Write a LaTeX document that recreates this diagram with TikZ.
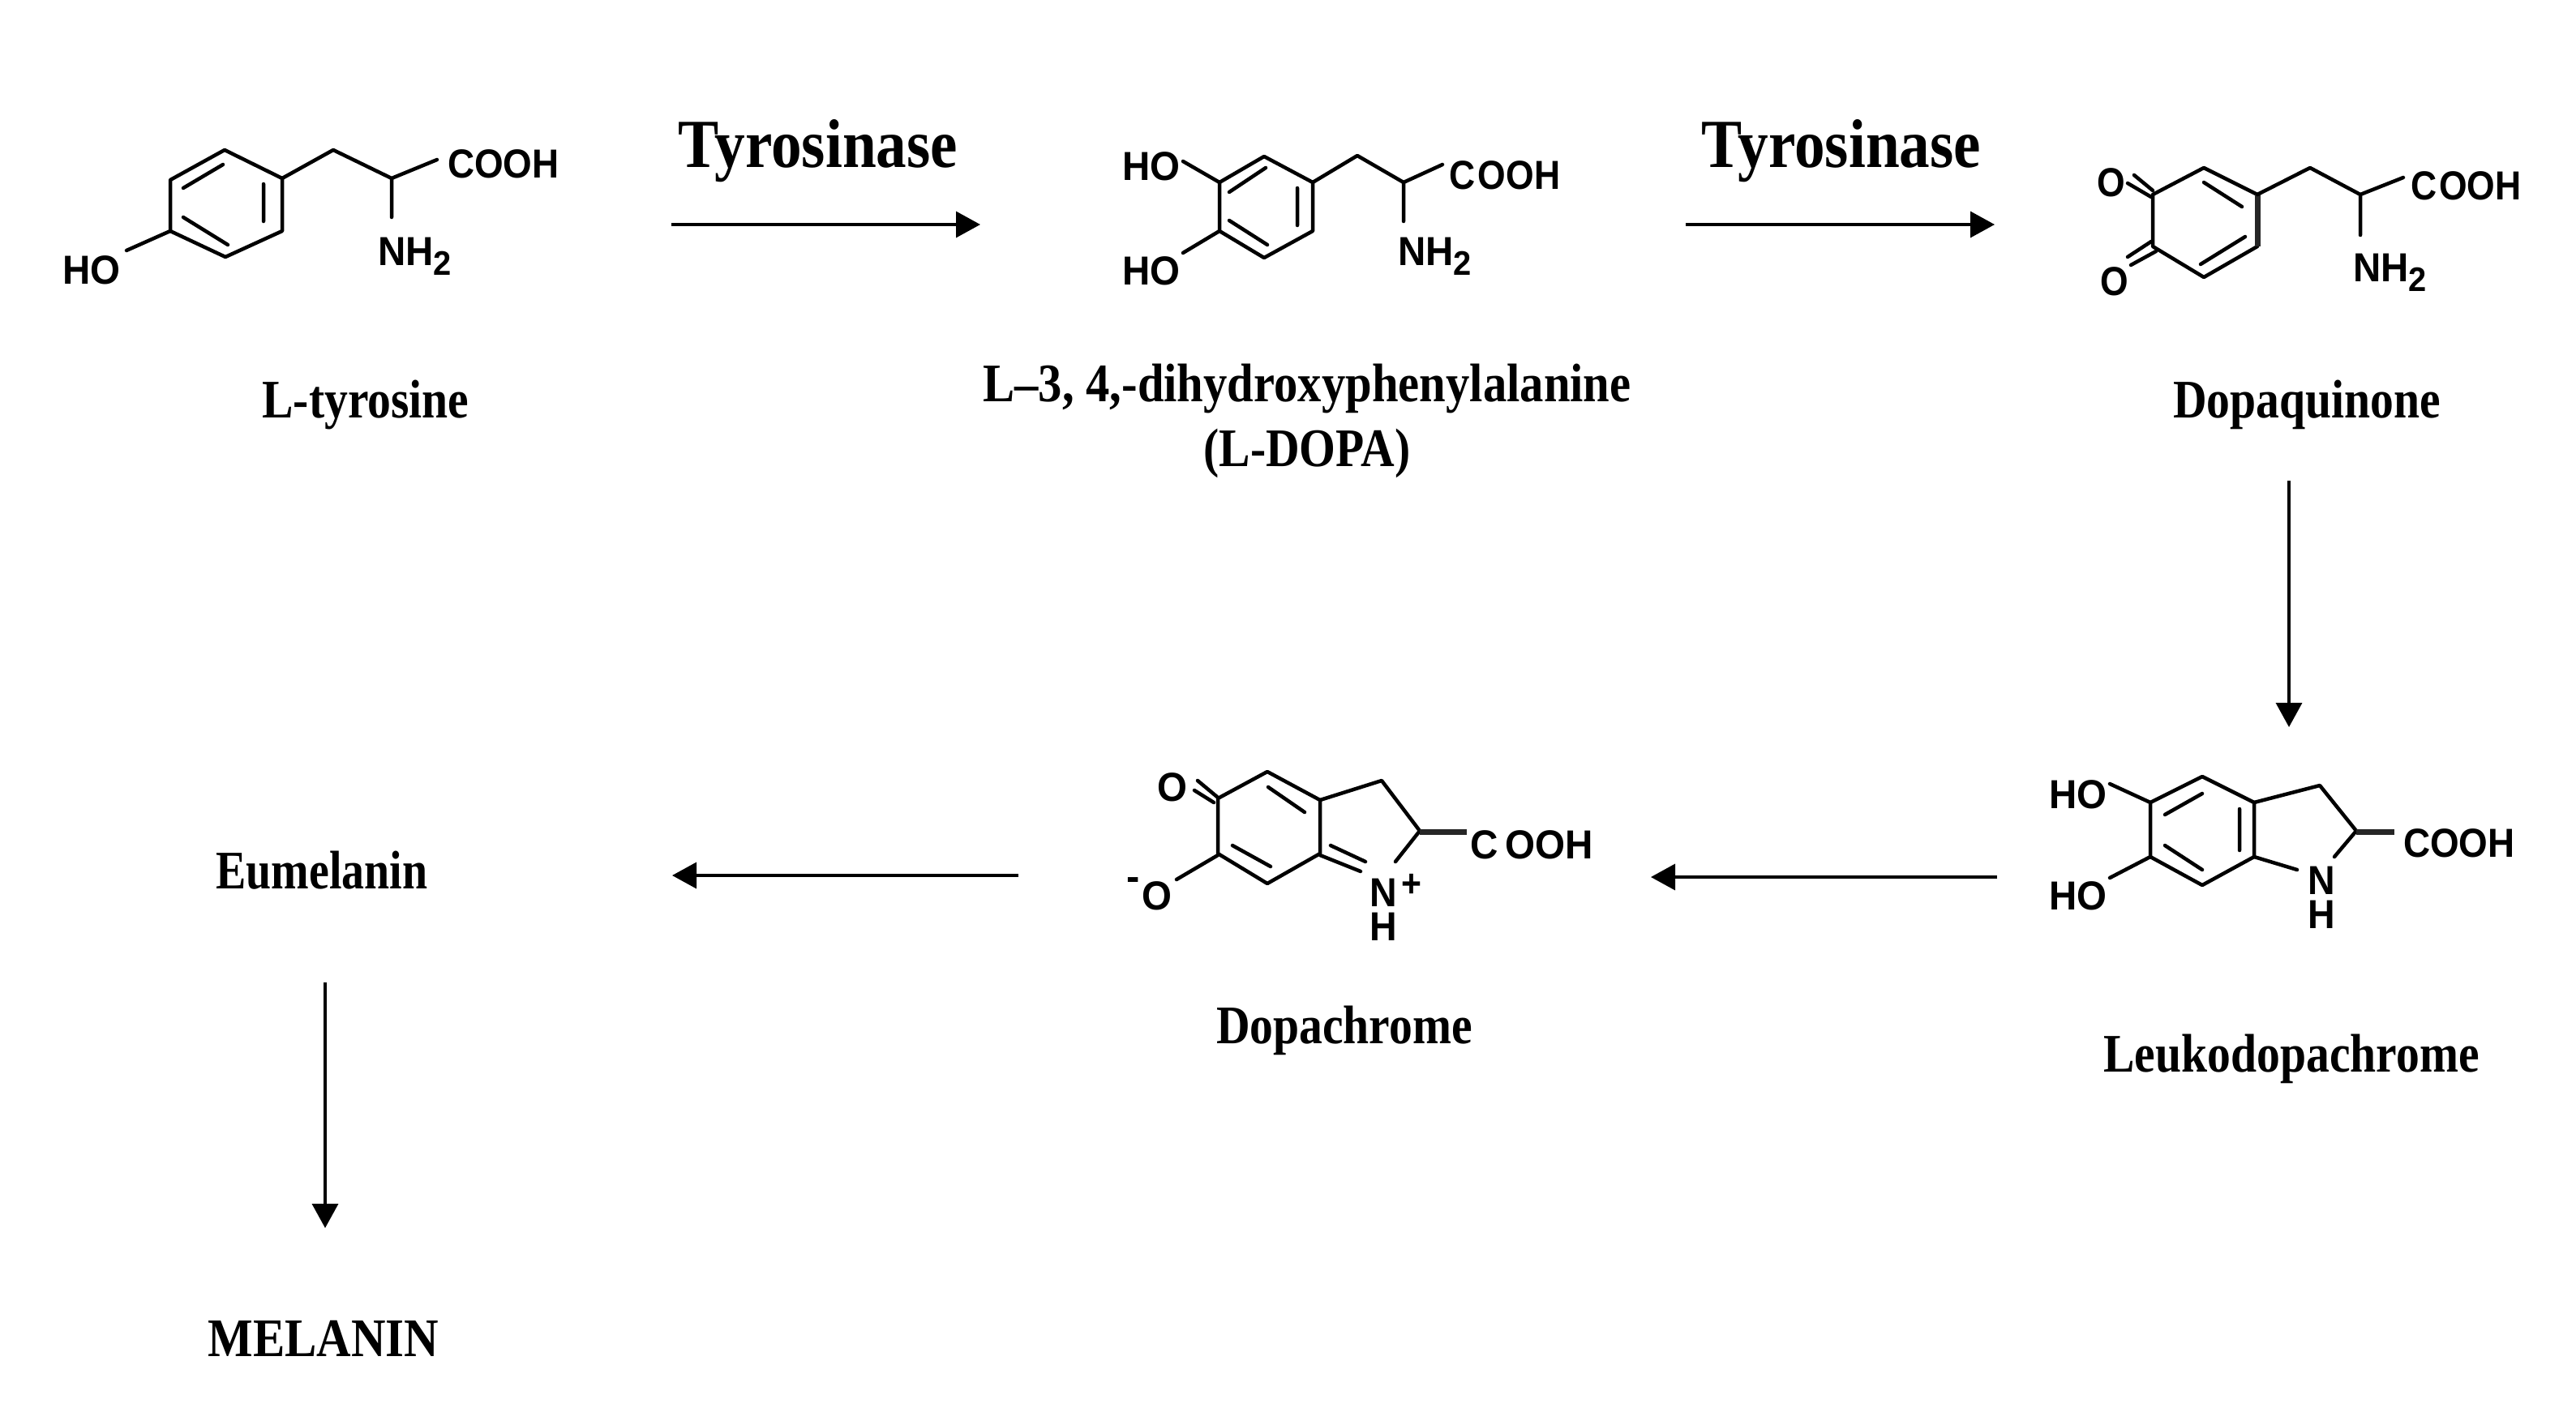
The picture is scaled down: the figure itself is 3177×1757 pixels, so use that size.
\documentclass[tikz,border=0pt]{standalone}
\usepackage{fontspec}
\setmainfont{Liberation Serif}
\newfontfamily\chemfont{Liberation Sans}
\usetikzlibrary{arrows.meta}
\newcommand{\subtwo}{\raisebox{-12pt}{\fontsize{42}{42}\selectfont 2}}
\tikzset{
  bond/.style={line width=4.5pt,black,line cap=round,line join=round},
  thickbond/.style={line width=7pt,black!85},
  chem/.style={anchor=base west,inner sep=0pt,transform shape,xscale=.89,font=\chemfont\bfseries\fontsize{50}{50}\selectfont},
  wide/.style={chem,xscale=1.067},
  stack/.style={anchor=north west,inner sep=0pt,transform shape,xscale=.93,align=left,font=\chemfont\bfseries\fontsize{50}{42}\selectfont},
  lab/.style={anchor=base,inner sep=0pt,transform shape,xscale=.86,font=\bfseries\fontsize{67}{67}\selectfont},
  enz/.style={anchor=base,inner sep=0pt,transform shape,xscale=.885,font=\bfseries\fontsize{85}{85}\selectfont},
  rx/.style={line width=3.5pt,-{Triangle[length=30pt,width=32pt]}}
}
\begin{document}
\begin{tikzpicture}[x=1pt,y=-1pt]
\useasboundingbox[fill=white] (0,0) rectangle (3177,1757);
% L-tyrosine
\draw[bond] (277,185)--(348,220)--(348,285)--(278,317)--(210,285)--(210,222)--cycle;
\draw[bond] (226,232)--(275,203) (325,227)--(325,273) (226,268)--(281,302);
\draw[bond] (348,220)--(411,185)--(483,220)--(539,197) (483,220)--(483,268) (210,285)--(156,309);
\node[chem,xscale=1.03] (t1) at (552,219) {COOH};
\node[wide] (t2) at (466,327) {NH\subtwo};
\node[wide] (t3) at (77,350) {HO};
% L-DOPA
\draw[bond] (1559,193)--(1619,225)--(1619,285)--(1559,318)--(1504,285)--(1504,225)--cycle;
\draw[bond] (1516,237)--(1561,207) (1600,232)--(1600,278) (1516,272)--(1563,302);
\draw[bond] (1619,225)--(1674,192)--(1731,225)--(1779,203) (1731,225)--(1731,273) (1504,225)--(1459,199) (1504,285)--(1459,312);
\node[chem] (d1) at (1787,233) {C\kern4pt OOH};
\node[wide] (d2) at (1724,327) {NH\subtwo};
\node[wide] (d3) at (1384,222) {HO};
\node[wide] (d4) at (1384,351) {HO};
% Dopaquinone
\draw[bond] (2655,240)--(2718,207)--(2784,240) (2784,304)--(2718,342)--(2655,304)--(2655,240);
\draw[thickbond] (2784,240)--(2784,304);
\draw[bond] (2718,225)--(2765,255) (2714,326)--(2769,292);
\draw[bond] (2655,235)--(2632,216) (2653,243)--(2624,226) (2653,298)--(2624,317) (2659,310)--(2628,327);
\draw[bond] (2784,240)--(2849,207)--(2911,240)--(2964,219) (2911,240)--(2911,290);
\node[chem] (q1) at (2973,246) {C\kern3pt OOH};
\node[wide] (q2) at (2902,347) {NH\subtwo};
\node[chem] (q3) at (2586,242) {O};
\node[chem] (q4) at (2590,364) {O};
% Dopachrome
\draw[bond] (1563,952)--(1628,987)--(1628,1053)--(1563,1090)--(1502,1053)--(1502,985)--cycle;
\draw[bond] (1564,971)--(1609,1002) (1520,1043)--(1567,1069);
\draw[bond] (1628,987)--(1704,963)--(1751,1025)--(1721,1063);
\draw[bond] (1628,1055)--(1678,1075) (1641,1043)--(1684,1063);
\draw[thickbond] (1751,1026)--(1809,1026);
\draw[bond] (1501,983)--(1477,963) (1497,990)--(1473,975) (1502,1055)--(1451,1085);
\node[chem,xscale=1.07] (c1) at (1813,1059) {C\kern9pt OOH};
\node[stack] (c2) at (1689,1084) {N\\H};
\node[chem,font=\chemfont\bfseries\fontsize{48}{48}\selectfont,anchor=center] (c3) at (1741,1092) {+};
\node[wide] (c5) at (1427,988) {O};
\node[wide] (c6) at (1408,1122) {O};
\node[chem,anchor=center,xscale=1.1] (c7) at (1398,1091) {-};
% Leukodopachrome
\draw[bond] (2652,990)--(2716,958)--(2780,990)--(2780,1057)--(2716,1092)--(2652,1057)--cycle;
\draw[bond] (2670,1005)--(2716,979) (2762,998)--(2762,1049) (2670,1043)--(2716,1073);
\draw[bond] (2780,990)--(2861,969)--(2906,1025)--(2879,1057) (2780,1057)--(2833,1073);
\draw[thickbond] (2906,1026)--(2953,1026);
\draw[bond] (2652,990)--(2602,967) (2652,1057)--(2602,1083);
\node[chem,xscale=1.03] (l1) at (2964,1057) {COOH};
\node[stack] (l2) at (2846,1069) {N\\H};
\node[wide] (l4) at (2527,997) {HO};
\node[wide] (l5) at (2527,1122) {HO};
% labels
\node[enz] (e1) at (1009,206) {Tyrosinase};
\node[enz] (e2) at (2271,206) {Tyrosinase};
\node[lab] (n1) at (451,515) {L-tyrosine};
\node[lab,xscale=1.018] (n2a) at (1612,495) {L--3, 4,-dihydroxyphenylalanine};
\node[lab] (n2b) at (1612,575) {(L-DOPA)};
\node[lab] (n3) at (2845,515) {Dopaquinone};
\node[lab] (n4) at (2826,1322) {Leukodopachrome};
\node[lab] (n5) at (1658,1287) {Dopachrome};
\node[lab,xscale=.97] (n6) at (397,1096) {Eumelanin};
\node[lab,xscale=1.022] (n7) at (399,1673) {MELANIN};
% arrows
\coordinate (a1s) at (828,277); \coordinate (a1e) at (1209,277);
\coordinate (a2s) at (2079,277); \coordinate (a2e) at (2460,277);
\coordinate (a3s) at (2823,593); \coordinate (a3e) at (2823,897);
\coordinate (a4s) at (2463,1082); \coordinate (a4e) at (2036,1082);
\coordinate (a5s) at (1256,1080); \coordinate (a5e) at (829,1080);
\coordinate (a6s) at (401,1212); \coordinate (a6e) at (401,1515);
\draw[rx] (a1s)--(a1e);
\draw[rx] (a2s)--(a2e);
\draw[rx] (a3s)--(a3e);
\draw[rx] (a4s)--(a4e);
\draw[rx] (a5s)--(a5e);
\draw[rx] (a6s)--(a6e);
\end{tikzpicture}
\end{document}
